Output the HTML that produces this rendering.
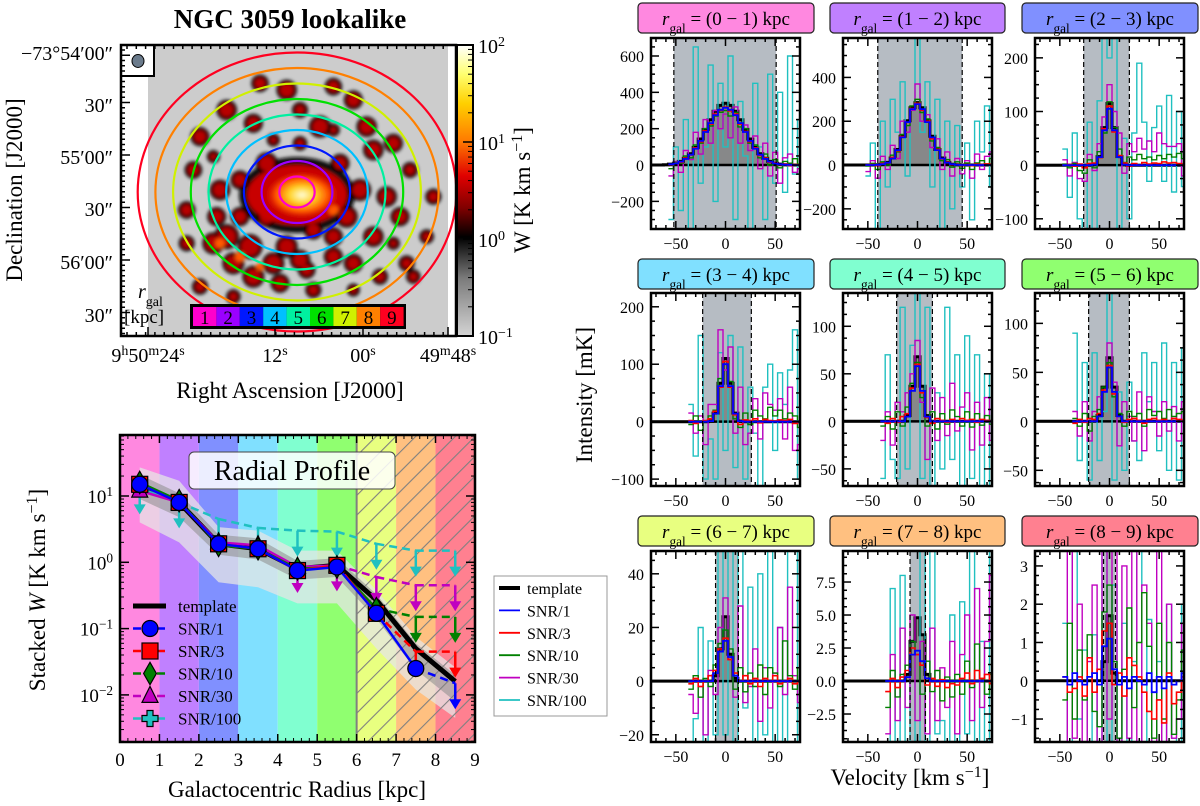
<!DOCTYPE html>
<html><head><meta charset="utf-8"><style>
html,body{margin:0;padding:0;background:#fff;}
svg{display:block;font-family:"Liberation Serif",serif;}
</style></head><body>
<svg id="fig" width="1200" height="806" viewBox="0 0 1200 806" xmlns="http://www.w3.org/2000/svg">
<defs>
<linearGradient id="cbar" x1="0" y1="0" x2="0" y2="1">
<stop offset="0" stop-color="#ffffff"/><stop offset="0.1" stop-color="#ffff70"/><stop offset="0.2" stop-color="#ffd000"/><stop offset="0.33" stop-color="#ff7a00"/><stop offset="0.45" stop-color="#e00000"/><stop offset="0.56" stop-color="#800000"/><stop offset="0.66" stop-color="#000000"/><stop offset="0.8" stop-color="#7a7a7a"/><stop offset="1" stop-color="#d4d4d4"/>
</linearGradient>
<radialGradient id="core" cx="0.5" cy="0.5" r="0.5"><stop offset="0" stop-color="#ffffe0"/><stop offset="0.35" stop-color="#ffd020"/><stop offset="0.7" stop-color="#ff5000"/><stop offset="1" stop-color="#d00000" stop-opacity="0"/></radialGradient>
<filter id="blur3"><feGaussianBlur stdDeviation="1.8"/></filter>
<pattern id="hatch" width="14" height="14" patternUnits="userSpaceOnUse" patternTransform="rotate(45)"><line x1="0" y1="0" x2="0" y2="14" stroke="#808080" stroke-width="2.2"/></pattern>
<clipPath id="mapclip"><rect x="121" y="45" width="335" height="291"/></clipPath>
<clipPath id="radclip"><rect x="120" y="435" width="355" height="307"/></clipPath>
</defs>
</svg>
<script>
// ---------------- Radial profile data ----------------
const radii = [0.5,1.5,2.5,3.5,4.5,5.5,6.5,7.5,8.5];
const templateW = [15,8,1.9,1.6,0.8,0.9,0.27,0.05,0.016];
const snr1W = [15,8,1.9,1.6,0.75,0.85,0.17,0.025,0.015];
const snr1Lim = [0,0,0,0,0,0,0,0,1];
const snr3W = [15,8,1.9,1.6,0.75,0.9,0.17,0.045,0.045];
const snr3Lim = [0,0,0,0,0,0,0,1,1];
const snr10W = [16,8.5,1.8,1.6,0.8,0.85,0.2,0.15,0.15];
const snr10Lim = [0,0,0,0,0,0,0,1,1];
const snr30W = [12,8,2,1.8,0.85,0.9,0.6,0.45,0.45];
const snr30Lim = [0,0,0,0,0,0,1,1,1];
const snr30Arrow = [0,0,0,0,1,1,1,1,1];
const snr100W = [13,8,4.5,3.3,3.0,2.9,1.9,1.5,1.5];
const snr100Lim = [0,0,1,1,1,1,1,1,1];
const snr100Arrow = [1,1,1,1,1,1,1,1,1];
const bandOuterHi = [27,17,3.4,3.0,1.5,1.5,0.38,0.075,0.026];
const bandOuterLo = [4,2,0.5,0.42,0.24,0.24,0.05,0.012,0.0045];
const bandInnerHi = [21,11,2.6,2.3,1.05,1.15,0.33,0.06,0.02];
const bandInnerLo = [9,4.8,1.3,1.1,0.55,0.6,0.14,0.024,0.008];
const radTicksX = ['0','1','2','3','4','5','6','7','8','9'];
const radTicksY = [-2,-1,0,1];

// ---------------- Spectra data (velocity channels, 5 km/s) ----------------
const N = n => Array(n).fill(null);
const Z = n => Array(n).fill(0);
const vel = [-75,-70,-65,-60,-55,-50,-45,-40,-35,-30,-25,-20,-15,-10,-5,0,5,10,15,20,25,30,35,40,45,50,55,60,65,70,75];
const panelLabels = ['0 − 1','1 − 2','2 − 3','3 − 4','4 − 5','5 − 6','6 − 7','7 − 8','8 − 9'];
const yTickVals = [[-200,0,200,400,600],[-200,0,200,400],[-100,0,100,200],[-100,0,100,200],[-50,0,50,100],[-50,0,50,100],[-20,0,20,40],[-2.5,0,2.5,5,7.5],[-1,0,1,2,3]];
const yTickText = [['−200','0','200','400','600'],['−200','0','200','400'],['−100','0','100','200'],['−100','0','100','200'],['−50','0','50','100'],['−50','0','50','100'],['−20','0','20','40'],['−2.5','0.0','2.5','5.0','7.5'],['−1','0','1','2','3']];
const yLims = [[-352,699],[-292,580],[-119,237],[-112,224],[-68,135],[-66,131],[-22.7,48.5],[-4.62,9.85],[-1.6,3.39]];
const windows = [[-52,51],[-40,45],[-26,20],[-23,26],[-21,15],[-21,20],[-10,13],[-7.5,8],[-6,6]];
const xTickVals = [-50,0,50];
const xTickText = ['−50','0','50'];
const templateSpec = [
 [0,0,0,2,5,10,20,37,62,97,143,196,249,296,328,340,328,296,249,196,143,97,62,37,20,10,5,2,0,0,0],
 [0,0,0,0,0,0,0,1,4,12,32,71,131,202,262,285,262,202,131,71,32,12,4,1,0,0,0,0,0,0,0],
 [...Z(12),1,16,70,115,70,16,1,...Z(12)],
 [...Z(12),1,15,67,110,67,15,1,...Z(12)],
 [...Z(13),6,37,68,37,6,...Z(13)],
 [...Z(13),6,35,65,35,6,...Z(13)],
 [...Z(13),2,12,24,10,1,...Z(13)],
 [...Z(13),0.5,3.0,4.8,3.5,0.5,...Z(13)],
 [...Z(14),0.5,1.7,0.2,...Z(14)]
];
const snr1Spec = [
 [...N(4),4,9,19,34,57,90,133,182,231,274,304,315,304,274,231,182,133,90,57,34,19,9,4,2,1,0,0],
 [...N(5),0,0,1,4,11,30,68,126,196,255,278,255,196,126,68,30,11,4,1,0,0,0,0,0,0,0],
 [...N(6),...Z(6),1,15,65,105,65,15,1,...Z(12)],
 [...N(8),...Z(4),1,14,62,100,62,14,1,...Z(12)],
 [...N(8),...Z(5),5,32,58,32,5,...Z(13)],
 [...N(8),...Z(5),5,30,55,30,5,...Z(13)],
 [...N(8),...Z(5),3,11,15,9,2,...Z(13)],
 [...N(9),...Z(4),0.3,2.0,2.3,1.5,0.2,...Z(13)],
 [...N(6),0.1,-0.1,0.2,0.0,-0.1,0.1,0.2,-0.1,0.9,1.1,0.3,-0.1,0.1,-0.2,0.1,0.0,-0.1,0.2,-0.3,0.1,-0.2,0.1,-0.1,0.0,0.2]
];
const snr3Spec = [
 [...N(4),2,10,15,38,55,95,128,188,225,280,300,318,298,280,225,185,128,95,52,38,15,12,2,5,-2,3,0],
 [...N(5),0,2,-3,8,10,35,65,130,195,258,282,250,200,120,72,28,14,2,3,-2,2,-3,4,2,5,2],
 [...N(6),0,1,-2,2,-5,3,4,14,68,110,62,18,4,-2,3,0,5,2,4,3,6,4,5,3,2],
 [...N(8),2,-3,0,2,5,18,60,105,60,12,-5,3,2,5,-2,4,2,1,3,2,4,-3,0],
 [...N(8),0,-2,3,-1,5,8,35,60,30,4,-2,3,1,-1,2,0,3,1,2,-1,2,1,0],
 [...N(8),-2,2,-1,3,2,8,32,57,28,5,-1,2,3,1,-2,2,3,1,2,0,3,2,1],
 [...N(8),-1,1,-2,0,2,4,12,16,8,3,0,2,-1,1,-2,1,0,2,-1,0,1,-1,0],
 [...N(9),-0.8,0.2,-0.5,0.3,0.8,2.5,2.0,1.2,-0.3,0.2,-0.4,0.1,-0.5,-0.2,-0.3,0.2,0.6,-0.2,0.8,0.2,0.5,-0.2],
 [...N(6),0.1,-0.3,-0.2,0.1,-0.4,0.6,-0.3,0.3,1.3,1.5,-0.1,0.2,-0.4,0.6,0.4,0.1,-0.3,-0.8,-1.0,-0.5,-1.1,0.2,-0.6,-0.3,0.1]
];
const snr10Spec = [
 [...N(4),-20,15,10,50,40,110,120,200,215,270,290,300,270,290,210,200,120,110,40,60,0,30,-15,20,10,35,5],
 [...N(5),-5,8,-20,15,0,45,60,140,180,270,300,240,210,110,80,20,25,-10,15,-15,10,-20,10,20,5,30],
 [...N(6),2,-5,3,-10,-15,10,-5,25,60,118,70,30,5,15,10,20,12,15,10,18,12,20,15,22,12],
 [...N(8),-5,10,-15,0,10,20,75,100,70,5,-10,15,-5,20,10,5,25,10,20,5,15,10,-10],
 [...N(8),-5,5,-8,10,-5,15,40,62,25,-5,10,-8,8,-3,12,5,-5,10,-6,8,-4,6,-3],
 [...N(8),3,-5,8,-10,5,12,35,60,25,8,-5,10,5,8,-5,12,6,10,3,12,5,8,10],
 [...N(8),-3,2,-6,1,-2,6,14,19,12,-3,5,-4,3,-2,6,-5,5,3,-2,15,2,-3,5],
 [...N(9),-2.0,0.8,-1.2,0.5,1.2,3.0,2.0,-1.0,1.5,-0.8,0.8,-1.5,0.3,-1.2,0.5,-1.0,1.5,-0.5,2.8,0.2,-1.0,0.5],
 [...N(6),-0.5,1.5,-1.0,0.8,-0.5,1.2,-0.8,-1.2,1.8,2.5,0.5,-1.5,0.3,1.9,-0.7,1.0,2.3,0.9,-1.5,1.5,-1.0,1.0,-1.4,-0.5,0.8]
];
const snr30Spec = [
 [...N(4),-60,20,-40,80,30,180,60,250,120,300,200,280,150,320,120,220,80,160,-20,120,-60,70,-100,40,60,-40,-20],
 [...N(5),-30,20,-60,40,-20,90,30,200,150,250,370,200,230,80,120,-20,60,-50,30,-40,20,-60,50,-20,40,60],
 [...N(6),10,-20,5,-25,-30,20,-10,40,90,150,100,60,-15,40,25,50,30,45,25,60,40,35,35,40,-20],
 [...N(8),15,-20,10,-40,30,30,160,90,130,-20,60,-40,-20,40,-30,50,30,20,40,-30,60,-50,-40],
 [...N(8),-20,10,-25,20,10,30,50,85,20,-40,35,-20,25,-15,40,-10,15,30,-30,20,-25,25,-20],
 [...N(8),10,-15,20,-20,10,25,30,80,40,-25,20,5,-20,30,-30,25,10,-15,20,-10,15,-20,20],
 [...N(8),-5,-12,-2,-20,4,-5,20,31,8,-6,28,-8,-2,12,-15,5,-10,3,20,-5,35,2,-8],
 [...N(9),-4,2,-3,4,-2,5,-3,3,-4,4,-3,1,-2,3,-4,2,5,-3,7,-2,3,8],
 [...N(6),-2,3.5,-1.5,2,-2,0.5,2.5,-2,3.5,-1,3.5,-2,3,-1.5,3.5,-2,2.5,1.5,-2,3.5,-2,2,-1.5,-1,1.5]
];
const snr100Spec = [
 [...N(4),-300,100,-250,250,-400,650,-100,100,550,-200,450,100,600,-300,350,50,-400,450,100,-300,500,-100,400,-150,600,-50,250],
 [...N(5),-50,100,-300,200,-100,300,150,380,-50,250,600,150,380,-100,300,-300,200,-200,180,-100,100,-250,200,60,270,-100],
 [...N(6),30,-60,60,-100,-150,80,-120,120,250,200,260,-150,50,-100,60,190,80,-30,70,110,-30,130,-50,100,-40],
 [...N(8),30,-60,150,-100,-30,-100,120,-50,150,-80,130,-100,60,-20,-120,60,100,-50,85,30,90,160,-100],
 [...N(8),-60,70,-40,-60,120,-50,80,140,-60,120,-70,30,-50,120,-40,70,-70,90,-60,70,-70,50,-70],
 [...N(8),90,-40,60,-60,70,-40,10,140,-60,30,-50,40,-20,-40,70,20,60,-30,80,-50,60,-60,75],
 [...N(8),-25,-14,20,-30,15,-20,55,-20,50,-25,60,-10,35,-30,40,-20,50,-25,20,-30,50,50,-30],
 [...N(9),-5,7,-5,8,-5,3,-5,10,-5,10,-4,-3,-5,5,-5,6,-4,10,-5,3,-5,10],
 [...N(6),1.5,-2,3.5,-1,0.8,-2,1.2,-2,3.5,-2,2.5,-2,1.5,-2,0.5,3.5,-2,1.6,-2,0.5,-2,2,-1.5,-2,2]
];

// ---------------- helpers ----------------
const NS = 'http://www.w3.org/2000/svg';
const svg = document.getElementById('fig');
function mk(tag, attrs, parent, name, inter) {
  const el = document.createElementNS(NS, tag);
  for (const k in attrs) el.setAttribute(k, attrs[k]);
  
  
  (parent || svg).appendChild(el);
  return el;
}
function txt(parent, x, y, html, size, anchor, name, extra) {
  const a = {x: x, y: y, 'font-size': size, 'text-anchor': anchor || 'start', fill: '#000'};
  if (extra) for (const k in extra) a[k] = extra[k];
  const el = mk('text', a, parent, name, false);
  el.innerHTML = html;
  return el;
}
const sup = s => '<tspan baseline-shift="super" font-size="70%">' + s + '</tspan>';
const sub = s => '<tspan baseline-shift="sub" font-size="70%">' + s + '</tspan>';

// ---------------- Moment map ----------------
const mapG = mk('g', {}, svg, 'moment-map', false);
mk('rect', {x:121, y:45, width:335, height:291, fill:'#fff'}, mapG, 'map-background', false);
mk('rect', {x:148, y:45, width:300, height:291, fill:'#cccccc'}, mapG, 'map-blanked-region', false);
const blobG = mk('g', {'clip-path':'url(#mapclip)', filter:'url(#blur3)'}, mapG, 'emission-blobs', false);
mk('ellipse', {cx:297, cy:195, rx:58, ry:38, fill:'#111'}, blobG, 'central-dark', false);
const blobs = [[480,160,9],[560,180,11],[700,170,9],[760,210,10],[380,240,11],[300,320,10],[460,280,10],[600,240,8],[660,290,12],[800,290,11],[880,340,10],[930,420,8],[820,360,11],[720,400,10],[500,400,12],[420,450,10],[360,480,11],[350,560,10],[260,540,9],[280,420,9],[860,500,11],[900,560,10],[820,620,11],[760,700,10],[700,680,10],[620,720,9],[540,760,10],[460,740,12],[400,700,12],[340,640,12],[380,620,14],[450,650,14],[560,650,12],[640,600,10],[740,560,12],[920,700,8],[840,740,8],[640,780,8],[300,770,8],[400,800,7],[1000,500,8],[940,740,7],[700,620,10],[500,560,11],[260,640,8],[980,620,7],[520,700,12],[600,690,11],[420,560,10],[780,480,12],[560,520,14],[640,440,14],[600,340,7],[520,330,6],[760,780,6],[880,640,6],[340,380,6],[700,300,6]];
blobs.forEach(b => { mk('circle', {cx:100+b[0]/3, cy:30+b[1]/3, r:b[2]*0.75+2, fill:'#050000'}, blobG, 'blob-edge', false); });
blobs.forEach(b => { mk('circle', {cx:100+b[0]/3, cy:30+b[1]/3, r:b[2]*0.75-1.5, fill:'#b80000'}, blobG, 'blob-core', false); });
mk('ellipse', {cx:297, cy:195, rx:50, ry:30, fill:'#c80000'}, blobG, 'central-red', false);
[[360,640,5],[420,680,5],[480,710,4],[700,540,5]].forEach(b => { mk('circle', {cx:100+b[0]/3, cy:30+b[1]/3, r:b[2], fill:'#ff5a00'}, blobG, 'bright-blob', false); });
mk('ellipse', {cx:302, cy:195, rx:38, ry:24, fill:'url(#core)'}, blobG, 'galaxy-core', false);
// rings
const ringColors = ['#ff00cc','#9b00ff','#0018ff','#00c0ff','#00f0a0','#00e000','#d0f000','#ff8000','#ff0020'];
const ringG = mk('g', {'clip-path':'url(#mapclip)'}, mapG, 'radial-rings', false);
ringColors.forEach((c, i) => {
  mk('ellipse', {cx:297, cy:192, rx:17.7*(i+1), ry:15.5*(i+1), fill:'none', stroke:c, 'stroke-width':2.2}, ringG, 'ring-' + (i+1) + 'kpc', false);
});
// beam box
mk('rect', {x:121, y:45, width:33, height:31, fill:'#fff', stroke:'#000', 'stroke-width':2}, mapG, 'beam-box', false);
mk('ellipse', {cx:138, cy:61, rx:6, ry:6.5, fill:'#6b7b8c', stroke:'#000', 'stroke-width':1}, mapG, 'beam-ellipse', false);
// ring legend
const rlG = mk('g', {}, mapG, 'ring-legend', false);
mk('rect', {x:190, y:304, width:216, height:25, fill:'#000'}, rlG, 'ring-legend-frame', false);
ringColors.forEach((c, i) => {
  mk('rect', {x:193+i*23.4, y:307, width:23.4, height:19, fill:c}, rlG, 'ring-legend-cell', false);
  txt(rlG, 193+i*23.4+11.7, 324, String(i+1), 19, 'middle', 'ring-legend-number');
});
txt(mapG, 138, 298, '<tspan font-style="italic">r</tspan>' + sub('gal'), 20, 'start', 'rgal-label');
txt(mapG, 124, 323, '[kpc]', 19, 'start', 'kpc-label');
mk('rect', {x:121, y:45, width:335, height:291, fill:'none', stroke:'#000', 'stroke-width':2.5}, mapG, 'map-frame', false);
// map ticks
for (let y = 50; y < 336; y += 5.25) {
  const major = [53,105,157,209,262,315].some(v => Math.abs(v - y) < 2.6);
  mk('line', {x1:121, y1:y, x2:121+(major?9:4), y2:y, stroke:'#000', 'stroke-width':1.5}, mapG, 'dec-tick', false);
}
for (let x = 127; x < 452; x += 9.3) {
  mk('line', {x1:x, y1:336, x2:x, y2:332, stroke:'#000', 'stroke-width':1.5}, mapG, 'ra-tick', false);
  mk('line', {x1:x, y1:45, x2:x, y2:49, stroke:'#000', 'stroke-width':1.5}, mapG, 'ra-tick-top', false);
}
[148,275,363,448].forEach(x => mk('line', {x1:x, y1:336, x2:x, y2:327, stroke:'#000', 'stroke-width':1.5}, mapG, 'ra-major-tick', false));
const decLabels = ['−73°54′00″','30″','55′00″','30″','56′00″','30″'];
const decY = [53,105,157,209,262,315];
decLabels.forEach((s, i) => txt(svg, 113, decY[i]+7, s, 20, 'end', 'dec-tick-label'));
txt(svg, 148, 362, '9' + sup('h') + '50' + sup('m') + '24' + sup('s'), 20, 'middle', 'ra-tick-label');
txt(svg, 275, 362, '12' + sup('s'), 20, 'middle', 'ra-tick-label');
txt(svg, 363, 362, '00' + sup('s'), 20, 'middle', 'ra-tick-label');
txt(svg, 448, 362, '49' + sup('m') + '48' + sup('s'), 20, 'middle', 'ra-tick-label');
txt(svg, 290, 398, 'Right Ascension [J2000]', 23, 'middle', 'ra-axis-title');
txt(svg, 0, 0, 'Declination [J2000]', 23, 'middle', 'dec-axis-title', {transform:'translate(22,190) rotate(-90)'});
txt(svg, 290, 28, 'NGC 3059 lookalike', 27, 'middle', 'map-title', {'font-weight':'bold'});
// colorbar
const cbG = mk('g', {}, svg, 'colorbar', false);
mk('rect', {x:457, y:45, width:16, height:291, fill:'url(#cbar)', stroke:'#000', 'stroke-width':2}, cbG, 'colorbar-gradient', false);
const cbDec = [2,1,0,-1];
cbDec.forEach(d => {
  const y = 45 + (2 - d) / 3 * 291;
  mk('line', {x1:463, y1:y, x2:473, y2:y, stroke:'#000', 'stroke-width':1.5}, cbG, 'colorbar-tick', false);
  txt(cbG, 478, y + 8, '10' + sup(d < 0 ? '−' + (-d) : d), 20, 'start', 'colorbar-tick-label');
  if (d > -1) for (let m = 2; m < 10; m++) {
    const ym = y + 97 - Math.log10(m) * 97;
    mk('line', {x1:468, y1:ym, x2:473, y2:ym, stroke:'#000', 'stroke-width':1}, cbG, 'colorbar-minor-tick', false);
  }
});
txt(cbG, 0, 0, 'W [K km s' + sup('−1') + ']', 23, 'middle', 'colorbar-title', {transform:'translate(530,190) rotate(-90)'});

// ---------------- Radial profile ----------------
const rx = r => 120 + r * 39.44;
const ry = v => 496 - (Math.log10(v) - 1) * 66.3;
const radG = mk('g', {}, svg, 'radial-profile-plot', false);
const bandColors = ['#ff88e0','#c080ff','#8090ff','#80e0ff','#80ffd0','#90ff70','#e8ff80','#ffc080','#ff8090'];
bandColors.forEach((c, i) => mk('rect', {x:rx(i), y:435, width:39.44, height:307, fill:c}, radG, 'radius-bin-' + i, false));
function bandPath(hi, lo) {
  let d = '';
  radii.forEach((r, i) => { d += (i ? 'L' : 'M') + rx(r) + ',' + ry(hi[i]); });
  for (let i = radii.length - 1; i >= 0; i--) d += 'L' + rx(radii[i]) + ',' + ry(lo[i]);
  return d + 'Z';
}
const cg = mk('g', {'clip-path':'url(#radclip)'}, radG, 'radial-data', false);
mk('path', {d:bandPath(bandOuterHi, bandOuterLo), fill:'#e6e6e6', 'fill-opacity':0.75}, cg, 'outer-uncertainty-band', false);
mk('path', {d:bandPath(bandInnerHi, bandInnerLo), fill:'#8c8c8c', 'fill-opacity':0.55}, cg, 'inner-uncertainty-band', false);
mk('rect', {x:rx(6), y:435, width:rx(9)-rx(6), height:307, fill:'url(#hatch)'}, cg, 'unreliable-hatch', false);
mk('line', {x1:rx(6), y1:435, x2:rx(6), y2:742, stroke:'#808080', 'stroke-width':2}, cg, 'reliability-limit-line', false);
let td = '';
radii.forEach((r, i) => { td += (i ? 'L' : 'M') + rx(r) + ',' + ry(templateW[i]); });
mk('path', {d:td, fill:'none', stroke:'#000', 'stroke-width':5}, cg, 'template-profile', false);
function marker(parent, kind, x, y, color, name) {
  const s = 8;
  let el;
  if (kind === 'o') el = mk('circle', {cx:x, cy:y, r:s}, parent, name, false);
  else if (kind === 's') el = mk('rect', {x:x-s, y:y-s, width:2*s, height:2*s}, parent, name, false);
  else if (kind === 'd') el = mk('polygon', {points:`${x},${y-s*1.4} ${x+s*0.8},${y} ${x},${y+s*1.4} ${x-s*0.8},${y}`}, parent, name, false);
  else if (kind === '^') el = mk('polygon', {points:`${x},${y-s*1.2} ${x+s},${y+s*0.8} ${x-s},${y+s*0.8}`}, parent, name, false);
  else el = mk('path', {d:`M${x-3},${y-8}h6v5h5v6h-5v5h-6v-5h-5v-6h5z`}, parent, name, false);
  el.setAttribute('fill', color);
  el.setAttribute('stroke', '#000');
  el.setAttribute('stroke-width', 1.2);
}
function arrow(parent, x, y0, y1, color, name) {
  mk('line', {x1:x, y1:y0, x2:x, y2:y1-6, stroke:color, 'stroke-width':2.5}, parent, name + '-shaft', false);
  mk('polygon', {points:`${x-6},${y1-8} ${x+6},${y1-8} ${x},${y1+2}`, fill:color}, parent, name + '-head', false);
}
function series(vals, lims, arrows, color, kind, name) {
  const g = mk('g', {}, cg, name, false);
  for (let i = 0; i < radii.length - 1; i++) {
    const dashed = lims[i] || lims[i+1];
    const a = {x1:rx(radii[i]), y1:ry(vals[i]), x2:rx(radii[i+1]), y2:ry(vals[i+1]), stroke:color, 'stroke-width':2.5};
    if (dashed) a['stroke-dasharray'] = '8,5';
    mk('line', a, g, name + '-segment', false);
  }
  radii.forEach((r, i) => {
    if (arrows[i]) arrow(g, rx(r), ry(vals[i]), ry(vals[i] / 2.3), color, name + '-upper-limit');
  });
  radii.forEach((r, i) => { if (!lims[i]) marker(g, kind, rx(r), ry(vals[i]), color, name + '-marker'); });
}
series(snr100W, snr100Lim, snr100Arrow, '#20c0c0', '+', 'snr100-profile');
series(snr30W, snr30Lim, snr30Arrow, '#c000c0', '^', 'snr30-profile');
series(snr10W, snr10Lim, snr10Lim, '#008000', 'd', 'snr10-profile');
series(snr3W, snr3Lim, snr3Lim, '#ff0000', 's', 'snr3-profile');
series(snr1W, snr1Lim, snr1Lim, '#0000ff', 'o', 'snr1-profile');
mk('rect', {x:189, y:452, width:206, height:37, rx:5, fill:'#fff', 'fill-opacity':0.85, stroke:'#444', 'stroke-width':1}, radG, 'radial-title-box', false);
txt(radG, 292, 480, 'Radial Profile', 28, 'middle', 'radial-title');
const ilG = mk('g', {}, radG, 'radial-legend', false);
const legNames = ['template','SNR/1','SNR/3','SNR/10','SNR/30','SNR/100'];
const legCols = ['#000','#0000ff','#ff0000','#008000','#c000c0','#20c0c0'];
const legKinds = [null,'o','s','d','^','+'];
legNames.forEach((n, i) => {
  const y = 606 + i * 22.5;
  mk('line', {x1:133, y1:y, x2:166, y2:y, stroke:legCols[i], 'stroke-width':i ? 2.5 : 5, 'stroke-dasharray':i ? '8,4' : 'none'}, ilG, 'legend-line', false);
  if (legKinds[i]) marker(ilG, legKinds[i], 150, y, legCols[i], 'legend-marker');
  txt(ilG, 178, y + 6, n, 17, 'start', 'legend-label');
});
mk('rect', {x:120, y:435, width:355, height:307, fill:'none', stroke:'#000', 'stroke-width':2.5}, radG, 'radial-frame', false);
radTicksX.forEach((s, i) => {
  const x = rx(i);
  mk('line', {x1:x, y1:742, x2:x, y2:734, stroke:'#000', 'stroke-width':1.5}, radG, 'x-tick', false);
  mk('line', {x1:x, y1:435, x2:x, y2:443, stroke:'#000', 'stroke-width':1.5}, radG, 'x-tick-top', false);
  for (let m = 1; m < 5 && i < 9; m++) {
    const xm = rx(i + m * 0.2);
    mk('line', {x1:xm, y1:742, x2:xm, y2:738, stroke:'#000', 'stroke-width':1}, radG, 'x-minor-tick', false);
    mk('line', {x1:xm, y1:435, x2:xm, y2:439, stroke:'#000', 'stroke-width':1}, radG, 'x-minor-tick-top', false);
  }
  txt(radG, x, 766, s, 19, 'middle', 'x-tick-label');
});
for (let d = -3; d <= 1; d++) {
  for (let m = 1; m < 10; m++) {
    const y = ry(m * Math.pow(10, d));
    if (y < 435 || y > 742) continue;
    const L = m === 1 ? 9 : 4;
    mk('line', {x1:120, y1:y, x2:120+L, y2:y, stroke:'#000', 'stroke-width':m===1?1.5:1}, radG, 'y-tick', false);
    mk('line', {x1:475, y1:y, x2:475-L, y2:y, stroke:'#000', 'stroke-width':m===1?1.5:1}, radG, 'y-tick-right', false);
  }
}
radTicksY.forEach(d => txt(radG, 113, ry(Math.pow(10, d)) + 7, '10' + sup(d < 0 ? '−' + (-d) : d), 19, 'end', 'y-tick-label'));
txt(radG, 297, 797, 'Galactocentric Radius [kpc]', 23, 'middle', 'radial-x-axis-title');
txt(radG, 0, 0, 'Stacked <tspan font-style="italic">W</tspan> [K km s' + sup('−1') + ']', 23, 'middle', 'radial-y-axis-title', {transform:'translate(45,590) rotate(-90)'});

// ---------------- Spectra legend ----------------
const slG = mk('g', {}, svg, 'spectra-legend', false);
mk('rect', {x:494, y:576, width:113, height:140, fill:'#fff', stroke:'#999', 'stroke-width':1}, slG, 'spectra-legend-box', false);
legNames.forEach((n, i) => {
  const y = 588 + i * 22.4;
  mk('line', {x1:499, y1:y, x2:520, y2:y, stroke:legCols[i], 'stroke-width':i ? 1.8 : 4}, slG, 'spectra-legend-line', false);
  txt(slG, 527, y + 6, n, 16, 'start', 'spectra-legend-label');
});

// ---------------- Spectra panels ----------------
const specX = [651,843,1035], specY = [38,293,551], specH = [191,193,191], specW = 149;
const boxX = [[638,814],[830,1005],[1022,1198]], boxY = [[3,33],[259,289],[516,546]];
for (let p = 0; p < 9; p++) {
  const col = p % 3, row = Math.floor(p / 3);
  const X0 = specX[col], Y0 = specY[row], H = specH[row];
  const [ymin, ymax] = yLims[p];
  const sx = v => X0 + (v + 75) / 150 * specW;
  const sy = v => Y0 + (ymax - v) / (ymax - ymin) * H;
  const g = mk('g', {}, svg, 'spectrum-panel-' + (p+1), false);
  const cid = 'sc' + p;
  const cp = mk('clipPath', {id:cid}, g, 'panel-clip', false);
  mk('rect', {x:X0, y:Y0, width:specW, height:H}, cp, 'panel-clip-rect', false);
  mk('rect', {x:X0, y:Y0, width:specW, height:H, fill:'#fff'}, g, 'panel-background', false);
  const inner = mk('g', {'clip-path':'url(#' + cid + ')'}, g, 'panel-data', false);
  const w = windows[p];
  mk('rect', {x:sx(w[0]), y:Y0, width:sx(w[1]) - sx(w[0]), height:H, fill:'#b6bcc3'}, inner, 'integration-window', false);
  function stepPath(vals) {
    let d = '', open = false;
    vals.forEach((v, i) => {
      if (v === null) { open = false; return; }
      const xa = sx(vel[i] - 2.5), xb = sx(vel[i] + 2.5), y = sy(v);
      d += (open ? 'L' : 'M') + xa.toFixed(1) + ',' + y.toFixed(1) + 'L' + xb.toFixed(1) + ',' + y.toFixed(1);
      open = true;
    });
    return d;
  }
  const tp = stepPath(templateSpec[p]);
  mk('path', {d:tp + 'L' + sx(77.5) + ',' + sy(0) + 'L' + sx(-77.5) + ',' + sy(0) + 'Z', fill:'#7f7f7f', 'fill-opacity':0.85}, inner, 'template-fill', false);
  mk('line', {x1:X0, y1:sy(0), x2:X0+specW, y2:sy(0), stroke:'#000', 'stroke-width':2.5}, inner, 'zero-line', false);
  mk('path', {d:tp, fill:'none', stroke:'#000', 'stroke-width':3}, inner, 'template-spectrum', false);
  mk('path', {d:stepPath(snr100Spec[p]), fill:'none', stroke:'#20c0c0', 'stroke-width':1.4}, inner, 'snr100-spectrum', false);
  mk('path', {d:stepPath(snr30Spec[p]), fill:'none', stroke:'#c000c0', 'stroke-width':1.4}, inner, 'snr30-spectrum', false);
  mk('path', {d:stepPath(snr10Spec[p]), fill:'none', stroke:'#008000', 'stroke-width':1.4}, inner, 'snr10-spectrum', false);
  mk('path', {d:stepPath(snr3Spec[p]), fill:'none', stroke:'#ff0000', 'stroke-width':1.6}, inner, 'snr3-spectrum', false);
  mk('path', {d:stepPath(snr1Spec[p]), fill:'none', stroke:'#0000ff', 'stroke-width':1.8}, inner, 'snr1-spectrum', false);
  mk('line', {x1:sx(w[0]), y1:Y0, x2:sx(w[0]), y2:Y0+H, stroke:'#000', 'stroke-width':1.2, 'stroke-dasharray':'5,3'}, inner, 'window-left-edge', false);
  mk('line', {x1:sx(w[1]), y1:Y0, x2:sx(w[1]), y2:Y0+H, stroke:'#000', 'stroke-width':1.2, 'stroke-dasharray':'5,3'}, inner, 'window-right-edge', false);
  mk('rect', {x:X0, y:Y0, width:specW, height:H, fill:'none', stroke:'#000', 'stroke-width':2.5}, g, 'panel-frame', false);
  for (let v = -70; v <= 70; v += 10) {
    const major = v % 50 === 0, L = major ? 8 : 4;
    mk('line', {x1:sx(v), y1:Y0+H, x2:sx(v), y2:Y0+H-L, stroke:'#000', 'stroke-width':1.5}, g, 'x-tick', false);
    mk('line', {x1:sx(v), y1:Y0, x2:sx(v), y2:Y0+L, stroke:'#000', 'stroke-width':1.5}, g, 'x-tick-top', false);
  }
  xTickVals.forEach((v, i) => txt(g, sx(v), Y0 + H + 20, xTickText[i], 16, 'middle', 'x-tick-label'));
  const yt = yTickVals[p];
  const ytxt = yTickText[p];
  const step = yt[1] - yt[0];
  for (let v = yt[0] - step; v <= yt[yt.length-1] + step; v += step / 4) {
    const y = sy(v);
    if (y < Y0 + 1 || y > Y0 + H - 1) continue;
    const major = Math.abs((v - yt[0]) / step - Math.round((v - yt[0]) / step)) < 1e-6, L = major ? 8 : 4;
    mk('line', {x1:X0, y1:y, x2:X0+L, y2:y, stroke:'#000', 'stroke-width':1.5}, g, 'y-tick', false);
    mk('line', {x1:X0+specW, y1:y, x2:X0+specW-L, y2:y, stroke:'#000', 'stroke-width':1.5}, g, 'y-tick-right', false);
  }
  yt.forEach((v, i) => txt(g, X0 - 7, sy(v) + 6, ytxt[i], 16, 'end', 'y-tick-label'));
  const bx = boxX[col], by = boxY[row];
  mk('rect', {x:bx[0], y:by[0], width:bx[1]-bx[0], height:by[1]-by[0], rx:4, fill:bandColors[p], stroke:'#222', 'stroke-width':1.2}, g, 'panel-title-box', false);
  txt(g, (bx[0]+bx[1])/2, by[1] - 8, '<tspan font-style="italic">r</tspan>' + sub('gal') + ' = (' + panelLabels[p] + ') kpc', 19, 'middle', 'panel-title');
}
txt(svg, 910, 785, 'Velocity [km s' + sup('−1') + ']', 23, 'middle', 'velocity-axis-title');
txt(svg, 0, 0, 'Intensity [mK]', 23, 'middle', 'intensity-axis-title', {transform:'translate(592,395) rotate(-90)'});
</script>
</body></html>
